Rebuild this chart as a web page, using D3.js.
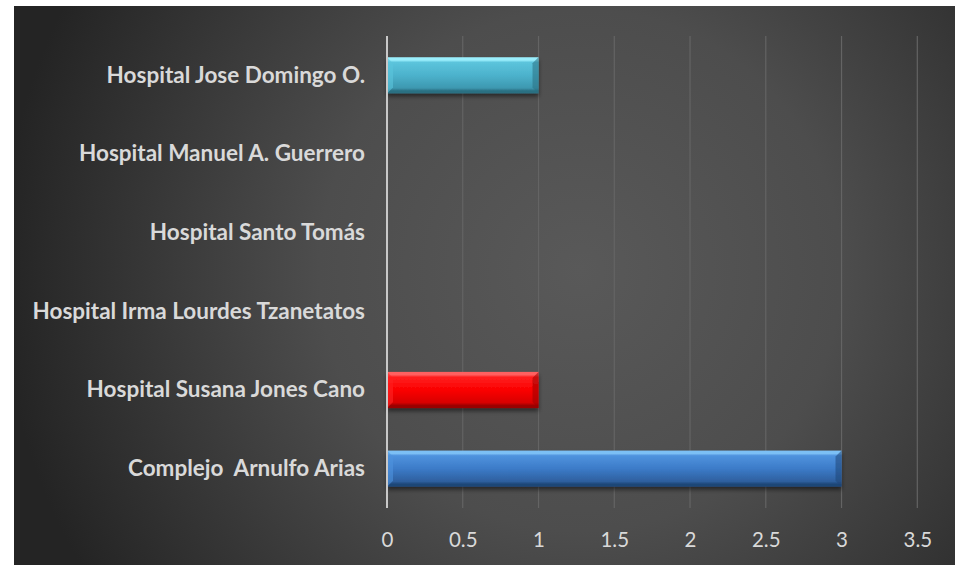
<!DOCTYPE html>
<html><head><meta charset="utf-8">
<script src="https://cdn.jsdelivr.net/npm/d3@7"></script>
<style>html,body{margin:0;padding:0;background:#fff;}svg{display:block;}</style>
</head><body>
<svg id="c" width="955" height="565"></svg>
<script>
const categories = ["Complejo  Arnulfo Arias","Hospital Susana Jones Cano","Hospital Irma Lourdes Tzanetatos","Hospital Santo Tomás","Hospital Manuel A. Guerrero","Hospital Jose Domingo O."];
const values = [3, 1, 0, 0, 0, 1];
const barColors = ["blue","red","none","none","none","cyan"];
const xTicks = [0,0.5,1,1.5,2,2.5,3,3.5];

const svg = d3.select("#c");
const defs = svg.append("defs");
const bg = defs.append("radialGradient").attr("id","bg").attr("gradientUnits","userSpaceOnUse")
  .attr("cx",580).attr("cy",270).attr("r",580);
bg.append("stop").attr("offset",0).attr("stop-color","#595959");
bg.append("stop").attr("offset",0.45).attr("stop-color","#4d4d4d");
bg.append("stop").attr("offset",1).attr("stop-color","#242424");

const pal = {
  blue:{hi:"#7cc0f5",top:"#4f93de",mid:"#3c7bc8",bot:"#2e609f",edge:"#1f4677"},
  red:{hi:"#ff6060",top:"#ff2020",mid:"#fb0000",bot:"#d80000",edge:"#9a0000"},
  cyan:{hi:"#9aeefc",top:"#5cc4dc",mid:"#4cb2cc",bot:"#3d98b0",edge:"#2a6f82"}
};
Object.entries(pal).forEach(([k,p])=>{
  const g = defs.append("linearGradient").attr("id","g_"+k).attr("x1",0).attr("y1",0).attr("x2",0).attr("y2",1);
  [[0,p.hi],[0.08,p.hi],[0.14,p.top],[0.5,p.mid],[0.85,p.bot],[0.93,p.edge],[1,p.edge]].forEach(s=>g.append("stop").attr("offset",s[0]).attr("stop-color",s[1]));
});
const sh = defs.append("filter").attr("id","sh").attr("x","-5%").attr("y","-20%").attr("width","110%").attr("height","160%");
sh.append("feGaussianBlur").attr("in","SourceAlpha").attr("stdDeviation",2);
sh.append("feOffset").attr("dy",3).attr("result","b");
sh.append("feComponentTransfer").append("feFuncA").attr("type","linear").attr("slope",0.5);
const mg = sh.append("feMerge"); mg.append("feMergeNode"); mg.append("feMergeNode").attr("in","SourceGraphic");

svg.append("rect").attr("x",14).attr("y",6).attr("width",941).attr("height",559).attr("fill","url(#bg)");

const x = d3.scaleLinear().domain([0,3.5]).range([387,917.3]);
const y = d3.scaleBand().domain(categories.slice().reverse()).range([36,508]).paddingInner(0.54).paddingOuter(0.27);

// gridlines
svg.append("g").selectAll("line").data(xTicks.filter(t=>t>0)).join("line")
  .attr("x1",d=>x(d)).attr("x2",d=>x(d)).attr("y1",36).attr("y2",508)
  .attr("stroke","#646464").attr("stroke-width",1.2);

// bars
const bars = svg.append("g").selectAll("g").data(categories.map((c,i)=>({c,v:values[i],col:barColors[i]})).filter(d=>d.v>0)).join("g").attr("filter","url(#sh)");
bars.append("rect").attr("x",x(0)).attr("y",d=>y(d.c)).attr("width",d=>x(d.v)-x(0)).attr("height",y.bandwidth())
  .attr("fill",d=>"url(#g_"+d.col+")");
bars.append("path").attr("d",d=>{const x1=x(d.v),y0=y(d.c),h=y.bandwidth(),b=6;
  return `M${x1},${y0}L${x1-b},${y0+b}L${x1-b},${y0+h-b}L${x1},${y0+h}Z`;})
  .attr("fill",d=>pal[d.col].edge).attr("opacity",0.55);
bars.append("path").attr("d",d=>{const x0=x(0),y0=y(d.c),h=y.bandwidth(),b=6;
  return `M${x0},${y0}L${x0+b},${y0+b}L${x0+b},${y0+h-b}L${x0},${y0+h}Z`;})
  .attr("fill",d=>pal[d.col].top).attr("opacity",0.6);

// zero axis line
svg.append("line").attr("x1",x(0)).attr("x2",x(0)).attr("y1",36).attr("y2",508).attr("stroke","#c8c8c8").attr("stroke-width",2);

// x axis
const xa = svg.append("g").attr("transform","translate(0,508)")
  .call(d3.axisBottom(x).tickValues(xTicks).tickFormat(d=>String(d)).tickSize(0).tickPadding(24));
xa.select(".domain").remove();
xa.selectAll("text").attr("fill","#d9d9d9").style("font-family","Lato, 'Open Sans', sans-serif").style("font-size","20.5px");

// y labels
const ya = svg.append("g").attr("transform","translate(387,0)")
  .call(d3.axisLeft(y).tickSize(0).tickPadding(22));
ya.select(".domain").remove();
ya.selectAll("text").attr("fill","#d9d9d9").style("white-space","pre").attr("xml:space","preserve")
  .style("font-family","Lato, 'Open Sans', sans-serif").style("font-size","22.5px").style("font-weight","bold");
</script>
</body></html>
